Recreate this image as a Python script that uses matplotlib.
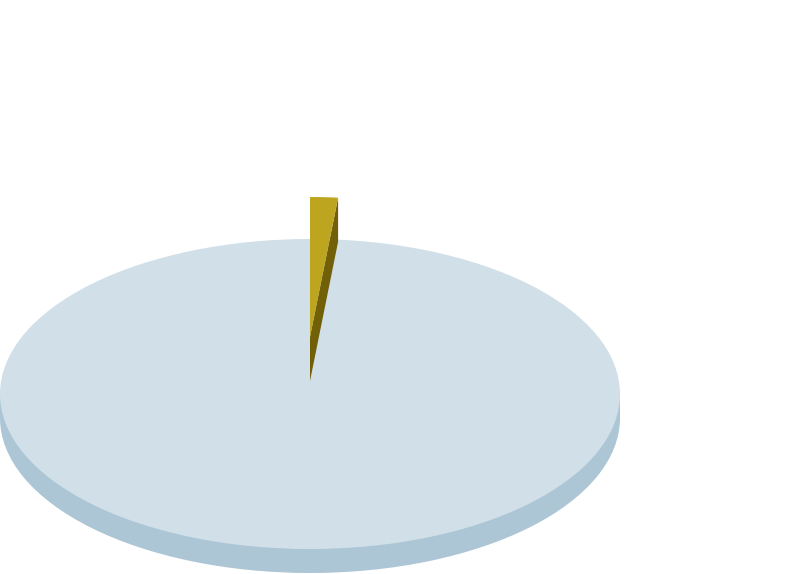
import numpy as np
import matplotlib
matplotlib.use("Agg")
import matplotlib.pyplot as plt

categories = ["Rest", "Share"]
values = [98.4, 1.6]
colors_top = ["#D1E0E8", "#BDA51F"]
colors_side = ["#ADC6D6", "#716008"]

W, H = 808, 574
TILT = 2.0  # y data units per pixel

fig = plt.figure(figsize=(W / 100, H / 100), dpi=100, facecolor="white")
ax = fig.add_axes([0, 0, 1, 1])

def py(p):
    return (H - p) * TILT

# main disc
cx, cy, R = 310, py(394), 310
depth = 24 * TILT
ax.pie([sum(values)], colors=[colors_side[0]], radius=R, center=(cx, cy - depth),
       wedgeprops=dict(linewidth=0), normalize=True)
ax.bar(cx, depth, width=2 * R, bottom=cy - depth, color=colors_side[0], linewidth=0)
ax.pie([sum(values)], colors=[colors_top[0]], radius=R, center=(cx, cy),
       wedgeprops=dict(linewidth=0), normalize=True)

# raised slice
sx, sy, r = 310, py(337), 280
d2 = 44 * TILT
theta = 2 * np.pi * values[1] / sum(values)
ex, ey = sx + r * np.sin(theta), sy + r * np.cos(theta)
ax.fill([sx, ex, ex, sx], [sy, ey, ey - d2, sy - d2], color=colors_side[1], linewidth=0)
wedges, _ = ax.pie([values[1], values[0]], colors=[colors_top[1], "none"], radius=r,
                   center=(sx, sy), startangle=90, counterclock=False,
                   wedgeprops=dict(linewidth=0))

ax.set_aspect("auto")
ax.set_xlim(0, W)
ax.set_ylim(0, H * TILT)
ax.axis("off")

fig.savefig("out.png", dpi=100, facecolor="white")
